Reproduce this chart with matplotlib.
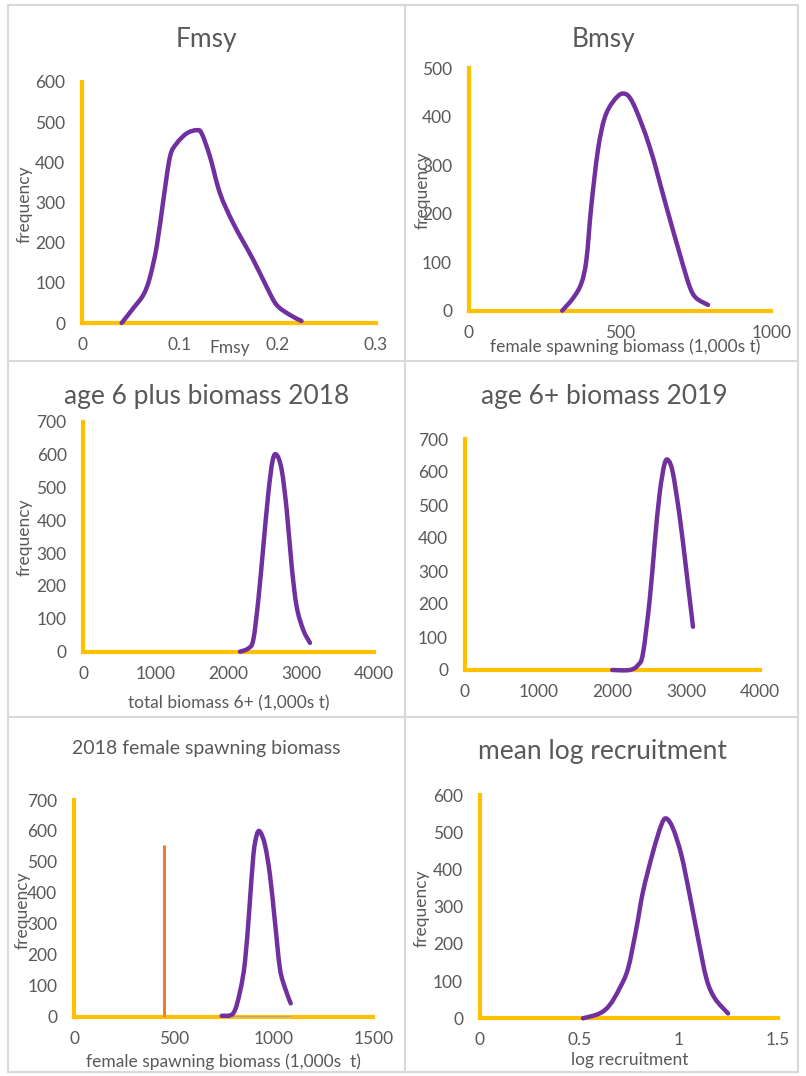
"""Six Excel-style smoothed frequency curves (Fmsy, Bmsy, biomass, recruitment)
drawn on a 3x2 grid of bordered panels. Writes out.png.
"""

import matplotlib.pyplot as plt
from matplotlib.lines import Line2D
from matplotlib.path import Path
from matplotlib.patches import PathPatch

plt.rcParams["font.family"] = ["Lato", "DejaVu Sans"]

W, H = 806, 1076

# ---- data ----
fmsy_x = [0.0405, 0.0524, 0.0626, 0.069, 0.0762, 0.083, 0.0898, 0.0966, 0.1068,
          0.117, 0.1221, 0.1306, 0.1408, 0.1544, 0.1748, 0.1884, 0.1986, 0.2122, 0.224]
fmsy_y = [0, 37, 70, 111, 190, 306, 414, 447, 472, 480, 472, 414, 323, 248, 157,
          90, 45, 20, 5]

bmsy_x = [309, 345, 372, 389, 405, 427, 449, 477, 510, 543, 598, 653, 697, 730, 752, 791]
bmsy_y = [0, 26, 56, 105, 215, 331, 397, 431, 448, 428, 338, 215, 118, 50, 26, 12]

b2018_x = [2156, 2270, 2339, 2408, 2477, 2546, 2606, 2661, 2730, 2799, 2868, 2936,
           3027, 3119]
b2018_y = [0, 10, 36, 157, 320, 482, 583, 599, 553, 431, 259, 137, 66, 27]

b2019_x = [1997, 2232, 2345, 2412, 2503, 2571, 2638, 2706, 2760, 2818, 2909, 2998, 3089]
b2019_y = [0, 0, 15, 50, 212, 384, 535, 626, 634, 596, 465, 303, 131]

fsb_x = [740, 798, 832, 857, 879, 899, 916, 932, 957, 982, 1007, 1032, 1058, 1086]
fsb_y = [3, 11, 81, 178, 350, 522, 587, 598, 555, 458, 307, 156, 92, 43]
ref_x = [452, 452]          # orange reference line
ref_y = [0, 555]
base_x = [740, 1087]        # grey base line
base_y = [0, 0]

rec_x = [0.519, 0.603, 0.654, 0.704, 0.746, 0.788, 0.821, 0.872, 0.913, 0.938,
         0.972, 1.014, 1.056, 1.098, 1.140, 1.182, 1.249]
rec_y = [0, 13, 36, 81, 134, 242, 340, 448, 519, 537, 510, 439, 331, 215, 107,
         54, 13]

YELLOW = "#FFC000"
PURPLE = "#7030A0"
TEXT = "#595959"
TICK_FS = 12.5
LABEL_FS = 12.5
TITLE_FS = 19


def fx(px):
    return px / W


def fy(py):
    return 1 - py / H


def smooth_path(xs, ys):
    # Excel-like smoothing: Catmull-Rom through the points as cubic Beziers
    pts = list(zip(xs, ys))
    verts = [pts[0]]
    codes = [Path.MOVETO]
    n = len(pts)
    for i in range(n - 1):
        p0 = pts[i - 1] if i > 0 else pts[i]
        p1 = pts[i]
        p2 = pts[i + 1]
        p3 = pts[i + 2] if i + 2 < n else pts[i + 1]
        c1 = (p1[0] + (p2[0] - p0[0]) / 6, p1[1] + (p2[1] - p0[1]) / 6)
        c2 = (p2[0] - (p3[0] - p1[0]) / 6, p2[1] - (p3[1] - p1[1]) / 6)
        verts += [c1, c2, p2]
        codes += [Path.CURVE4] * 3
    return Path(verts, codes)


def add_curve(ax, xs, ys, color=PURPLE, lw=3.2):
    patch = PathPatch(smooth_path(xs, ys), fill=False, edgecolor=color, lw=lw,
                      capstyle="round", joinstyle="round", zorder=4, clip_on=False)
    ax.add_patch(patch)


def make_axes(fig, box, xlim, ylim, xticks, yticks, xticklabels=None):
    x0, x1, top, bottom = box
    ax = fig.add_axes([fx(x0), fy(bottom), (x1 - x0) / W, (bottom - top) / H])
    ax.set_xlim(*xlim)
    ax.set_ylim(*ylim)
    ax.set_xticks(xticks)
    ax.set_yticks(yticks)
    if xticklabels is not None:
        ax.set_xticklabels(xticklabels)
    for s in ("top", "right"):
        ax.spines[s].set_visible(False)
    for s in ("left", "bottom"):
        ax.spines[s].set_color(YELLOW)
        ax.spines[s].set_linewidth(3.0)
        ax.spines[s].set_zorder(3)
    ax.tick_params(length=0, labelsize=TICK_FS, labelcolor=TEXT)
    ax.tick_params(axis="x", pad=10)
    ax.tick_params(axis="y", pad=12)
    ax.patch.set_alpha(0)
    return ax


def label(fig, x, y, s, size=LABEL_FS, rot=0):
    fig.text(fx(x), fy(y), s, ha="center", va="center", rotation=rot,
             fontsize=size, color=TEXT)


def main():
    fig = plt.figure(figsize=(W / 100, H / 100), dpi=100)

    # panel borders
    bc = "#D9D9D9"
    for xv in (8, 405, 798):
        fig.add_artist(Line2D([fx(xv)] * 2, [fy(5), fy(1072)], color=bc, lw=1.5))
    for yv in (5, 361, 717, 1072):
        fig.add_artist(Line2D([fx(8), fx(798)], [fy(yv)] * 2, color=bc, lw=1.5))

    # 1: Fmsy
    ax = make_axes(fig, (82, 376, 82, 323), (0, 0.3), (0, 600),
                   [0, 0.1, 0.2, 0.3], range(0, 601, 100), ["0", "0.1", "0.2", "0.3"])
    add_curve(ax, fmsy_x, fmsy_y)
    label(fig, 206.7, 40, "Fmsy", TITLE_FS)
    label(fig, 230, 347.7, "Fmsy")
    label(fig, 25, 204, "frequency", rot=90)

    # 2: Bmsy
    ax = make_axes(fig, (468.7, 771.3, 68.3, 310.7), (0, 1000), (0, 500),
                   [0, 500, 1000], range(0, 501, 100))
    add_curve(ax, bmsy_x, bmsy_y)
    label(fig, 603, 40, "Bmsy", TITLE_FS)
    label(fig, 624.7, 347, "female spawning biomass (1,000s t)")
    label(fig, 423, 190, "frequency", rot=90)

    # 3: age 6 plus biomass 2018
    ax = make_axes(fig, (83.3, 374, 421.7, 651.7), (0, 4000), (0, 700),
                   range(0, 4001, 1000), range(0, 701, 100))
    add_curve(ax, b2018_x, b2018_y)
    label(fig, 206.7, 396.7, "age 6 plus biomass 2018", TITLE_FS)
    label(fig, 228.3, 703, "total biomass 6+ (1,000s t)")
    label(fig, 25, 537.5, "frequency", rot=90)

    # 4: age 6+ biomass 2019
    ax = make_axes(fig, (464.7, 760.3, 439, 670), (0, 4000), (0, 700),
                   range(0, 4001, 1000), range(0, 701, 100))
    add_curve(ax, b2019_x, b2019_y)
    label(fig, 604.7, 396.7, "age 6+ biomass 2019", TITLE_FS)

    # 5: 2018 female spawning biomass
    ax = make_axes(fig, (74, 373.3, 800, 1016.7), (0, 1500), (0, 700),
                   [0, 500, 1000, 1500], range(0, 701, 100))
    ax.plot(ref_x, ref_y, color="#ED7D31", lw=2.2, zorder=4, solid_capstyle="butt")
    ax.plot(base_x, base_y, color="#A5A5A5", lw=2.2, zorder=4, solid_capstyle="butt")
    add_curve(ax, fsb_x, fsb_y)
    label(fig, 206.7, 748.3, "2018 female spawning biomass", 14)
    label(fig, 223, 1061.7, "female spawning biomass (1,000s  t)")
    label(fig, 23, 910, "frequency", rot=90)

    # 6: mean log recruitment
    ax = make_axes(fig, (479.7, 778, 795, 1018.3), (0, 1.5), (0, 600),
                   [0, 0.5, 1, 1.5], range(0, 601, 100), ["0", "0.5", "1", "1.5"])
    add_curve(ax, rec_x, rec_y)
    label(fig, 603, 751.7, "mean log recruitment", TITLE_FS)
    label(fig, 629.7, 1060, "log recruitment")
    label(fig, 421.3, 908, "frequency", rot=90)

    fig.savefig("out.png", dpi=100)


if __name__ == "__main__":
    main()
